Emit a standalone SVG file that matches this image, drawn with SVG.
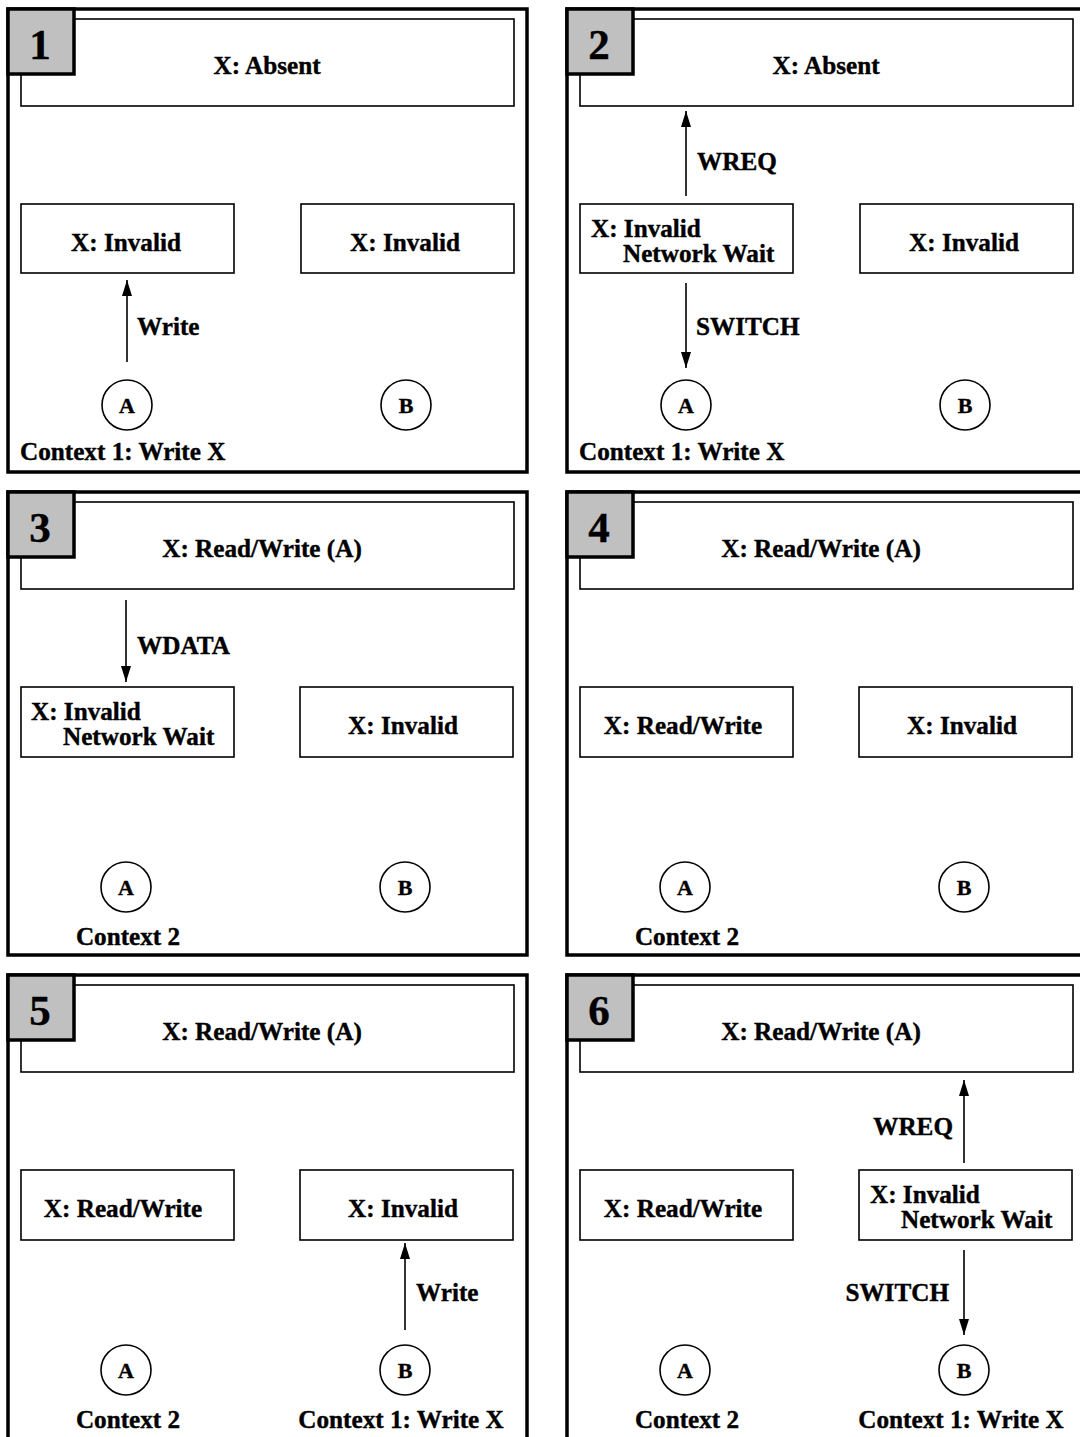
<svg xmlns="http://www.w3.org/2000/svg" width="1080" height="1437" viewBox="0 0 1080 1437">
<defs>
<style>
text{font-family:"Liberation Serif","Times New Roman",serif;font-weight:bold;fill:#000;stroke:#000;stroke-width:0.4}
.frame{fill:none;stroke:#000;stroke-width:3.5}
.num{fill:#c0c0c0;stroke:#000;stroke-width:3.5}
.numt{font-size:43px;text-anchor:middle}
.box{fill:#fff;stroke:#000;stroke-width:1.6}
.lbl{font-size:25.2px}
.c{text-anchor:middle}
.e{text-anchor:end}
.circ{fill:#fff;stroke:#000;stroke-width:1.6}
.ct{font-size:22px;text-anchor:middle}
.arr{stroke:#000;stroke-width:1.6;fill:none;marker-end:url(#ah)}
</style>
<marker id="ah" markerUnits="userSpaceOnUse" markerWidth="18" markerHeight="11" refX="16" refY="5" orient="auto">
<path d="M0,0 L16,5 L0,10 z" fill="#000"/>
</marker>
</defs>
<rect width="1080" height="1437" fill="#fff"/>

<g id="panel1">
<rect class="frame" x="8" y="9" width="519" height="463"/>
<g id="p1-cache"><rect class="box" x="21" y="19" width="493" height="87"/><text class="lbl c" x="267" y="74">X: Absent</text></g>
<g id="p1-boxA"><rect class="box" x="21" y="204" width="213" height="69"/><text class="lbl c" x="126" y="251">X: Invalid</text></g>
<g id="p1-boxB"><rect class="box" x="301" y="204" width="213" height="69"/><text class="lbl c" x="405" y="251">X: Invalid</text></g>
<g id="p1-A"><circle class="circ" cx="127" cy="405" r="25"/><text class="ct" x="127" y="413">A</text></g>
<g id="p1-B"><circle class="circ" cx="406" cy="405" r="25"/><text class="ct" x="406" y="413">B</text></g>
<text class="lbl" x="20" y="460">Context 1: Write X</text>
<g id="p1-num"><rect class="num" x="8" y="9" width="66" height="65"/><text class="numt" x="40" y="59">1</text></g>
</g>

<g id="panel2">
<rect class="frame" x="567" y="9" width="519" height="463"/>
<g id="p2-cache"><rect class="box" x="580" y="19" width="493" height="87"/><text class="lbl c" x="826" y="74">X: Absent</text></g>
<g id="p2-boxA"><rect class="box" x="580" y="204" width="213" height="69"/><text class="lbl" x="591" y="237">X: Invalid</text><text class="lbl" x="623" y="262">Network Wait</text></g>
<g id="p2-boxB"><rect class="box" x="860" y="204" width="213" height="69"/><text class="lbl c" x="964" y="251">X: Invalid</text></g>
<g id="p2-A"><circle class="circ" cx="686" cy="405" r="25"/><text class="ct" x="686" y="413">A</text></g>
<g id="p2-B"><circle class="circ" cx="965" cy="405" r="25"/><text class="ct" x="965" y="413">B</text></g>
<text class="lbl" x="579" y="460">Context 1: Write X</text>
<g id="p2-num"><rect class="num" x="567" y="9" width="66" height="65"/><text class="numt" x="599" y="59">2</text></g>
</g>

<g id="panel3">
<rect class="frame" x="8" y="492" width="519" height="463"/>
<g id="p3-cache"><rect class="box" x="21" y="502" width="493" height="87"/><text class="lbl c" x="262" y="557">X: Read/Write (A)</text></g>
<g id="p3-boxA"><rect class="box" x="21" y="687" width="213" height="70"/><text class="lbl" x="31" y="720">X: Invalid</text><text class="lbl" x="63" y="745">Network Wait</text></g>
<g id="p3-boxB"><rect class="box" x="300" y="687" width="213" height="70"/><text class="lbl c" x="403" y="734">X: Invalid</text></g>
<g id="p3-A"><circle class="circ" cx="126" cy="887" r="25"/><text class="ct" x="126" y="895">A</text></g>
<g id="p3-B"><circle class="circ" cx="405" cy="887" r="25"/><text class="ct" x="405" y="895">B</text></g>
<text class="lbl c" x="128" y="945">Context 2</text>
<g id="p3-num"><rect class="num" x="8" y="492" width="66" height="65"/><text class="numt" x="40" y="542">3</text></g>
</g>

<g id="panel4">
<rect class="frame" x="567" y="492" width="519" height="463"/>
<g id="p4-cache"><rect class="box" x="580" y="502" width="493" height="87"/><text class="lbl c" x="821" y="557">X: Read/Write (A)</text></g>
<g id="p4-boxA"><rect class="box" x="580" y="687" width="213" height="70"/><text class="lbl c" x="683" y="734">X: Read/Write</text></g>
<g id="p4-boxB"><rect class="box" x="859" y="687" width="213" height="70"/><text class="lbl c" x="962" y="734">X: Invalid</text></g>
<g id="p4-A"><circle class="circ" cx="685" cy="887" r="25"/><text class="ct" x="685" y="895">A</text></g>
<g id="p4-B"><circle class="circ" cx="964" cy="887" r="25"/><text class="ct" x="964" y="895">B</text></g>
<text class="lbl c" x="687" y="945">Context 2</text>
<g id="p4-num"><rect class="num" x="567" y="492" width="66" height="65"/><text class="numt" x="599" y="542">4</text></g>
</g>

<g id="panel5">
<rect class="frame" x="8" y="975" width="519" height="470"/>
<g id="p5-cache"><rect class="box" x="21" y="985" width="493" height="87"/><text class="lbl c" x="262" y="1040">X: Read/Write (A)</text></g>
<g id="p5-boxA"><rect class="box" x="21" y="1170" width="213" height="70"/><text class="lbl c" x="123" y="1217">X: Read/Write</text></g>
<g id="p5-boxB"><rect class="box" x="300" y="1170" width="213" height="70"/><text class="lbl c" x="403" y="1217">X: Invalid</text></g>
<g id="p5-A"><circle class="circ" cx="126" cy="1370" r="25"/><text class="ct" x="126" y="1378">A</text></g>
<g id="p5-B"><circle class="circ" cx="405" cy="1370" r="25"/><text class="ct" x="405" y="1378">B</text></g>
<text class="lbl c" x="128" y="1428">Context 2</text>
<text class="lbl c" x="401" y="1428">Context 1: Write X</text>
<g id="p5-num"><rect class="num" x="8" y="975" width="66" height="65"/><text class="numt" x="40" y="1025">5</text></g>
</g>

<g id="panel6">
<rect class="frame" x="567" y="975" width="519" height="470"/>
<g id="p6-cache"><rect class="box" x="580" y="985" width="493" height="87"/><text class="lbl c" x="821" y="1040">X: Read/Write (A)</text></g>
<g id="p6-boxA"><rect class="box" x="580" y="1170" width="213" height="70"/><text class="lbl c" x="683" y="1217">X: Read/Write</text></g>
<g id="p6-boxB"><rect class="box" x="859" y="1170" width="213" height="70"/><text class="lbl" x="870" y="1203">X: Invalid</text><text class="lbl" x="901" y="1228">Network Wait</text></g>
<g id="p6-A"><circle class="circ" cx="685" cy="1370" r="25"/><text class="ct" x="685" y="1378">A</text></g>
<g id="p6-B"><circle class="circ" cx="964" cy="1370" r="25"/><text class="ct" x="964" y="1378">B</text></g>
<text class="lbl c" x="687" y="1428">Context 2</text>
<text class="lbl c" x="961" y="1428">Context 1: Write X</text>
<g id="p6-num"><rect class="num" x="567" y="975" width="66" height="65"/><text class="numt" x="599" y="1025">6</text></g>
</g>

<g id="connectors">
<line class="arr" x1="127" y1="362" x2="127" y2="280"/>
<text class="lbl" x="137" y="335">Write</text>
<line class="arr" x1="686" y1="196" x2="686" y2="111"/>
<text class="lbl" x="697" y="170">WREQ</text>
<line class="arr" x1="686" y1="283" x2="686" y2="368"/>
<text class="lbl" x="696" y="335">SWITCH</text>
<line class="arr" x1="126" y1="600" x2="126" y2="682"/>
<text class="lbl" x="137" y="654">WDATA</text>
<line class="arr" x1="405" y1="1330" x2="405" y2="1243"/>
<text class="lbl" x="416" y="1301">Write</text>
<line class="arr" x1="964" y1="1163" x2="964" y2="1080"/>
<text class="lbl e" x="953" y="1135">WREQ</text>
<line class="arr" x1="964" y1="1250" x2="964" y2="1335"/>
<text class="lbl e" x="949" y="1301">SWITCH</text>
</g>
</svg>
